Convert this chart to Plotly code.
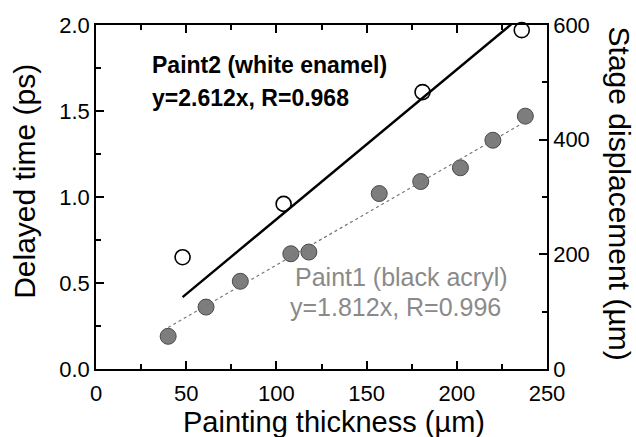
import plotly.graph_objects as go

# Paint1 (black acryl) measured points: thickness (um) vs delayed time (ps)
p1_x = [40, 61, 80, 108, 118, 157, 180, 202, 220, 238]
p1_y = [0.19, 0.36, 0.51, 0.67, 0.68, 1.02, 1.09, 1.17, 1.33, 1.47]
# Paint2 (white enamel) measured points
p2_x = [48, 104, 181, 236]
p2_y = [0.65, 0.96, 1.61, 1.97]
# linear fits (stage displacement um = slope * thickness)
p1_slope = 1.812
p2_slope = 2.612
p1_fit_x = [40, 238]
p2_fit_x = [48, 232]

FONT = "Liberation Sans, Arial, Helvetica, sans-serif"

fig = go.Figure()
fig.add_trace(go.Scatter(x=p1_fit_x, y=[p1_slope * v for v in p1_fit_x], yaxis="y2",
                         mode="lines", line=dict(color="#777777", width=1.2, dash="dot"),
                         showlegend=False, hoverinfo="skip"))
fig.add_trace(go.Scatter(x=p2_fit_x, y=[p2_slope * v for v in p2_fit_x], yaxis="y2",
                         mode="lines", line=dict(color="black", width=2.4),
                         showlegend=False, hoverinfo="skip"))
fig.add_trace(go.Scatter(x=p1_x, y=p1_y, mode="markers",
                         marker=dict(size=16, color="#7d7d7d", line=dict(color="#4a4a4a", width=1)),
                         showlegend=False))
fig.add_trace(go.Scatter(x=p2_x, y=p2_y, mode="markers",
                         marker=dict(size=15, color="white", line=dict(color="black", width=1.6)),
                         showlegend=False, cliponaxis=False))

axis_common = dict(showline=True, linecolor="black", linewidth=1.5, ticks="inside",
                   tickcolor="black", tickwidth=1.5, ticklen=8, showgrid=False, zeroline=False,
                   automargin=False,
                   tickfont=dict(family=FONT, size=22, color="black"))

fig.update_layout(
    width=636, height=437,
    margin=dict(l=96, r=89, t=25, b=68),
    paper_bgcolor="white", plot_bgcolor="white",
    xaxis=dict(range=[0, 250], dtick=50, tick0=0, mirror="ticks", ticklabelstandoff=4,
               minor=dict(dtick=25, ticks="inside", ticklen=5, tickcolor="black", tickwidth=1.5),
               **axis_common),
    yaxis=dict(range=[0, 2.0], dtick=0.5, tick0=0, tickformat=".1f",
               minor=dict(dtick=0.25, ticks="inside", ticklen=5, tickcolor="black", tickwidth=1.5),
               **axis_common),
    yaxis2=dict(range=[0, 600], dtick=200, tick0=0, overlaying="y", side="right",
                minor=dict(dtick=100, ticks="inside", ticklen=5, tickcolor="black", tickwidth=1.5),
                **axis_common),
)

# axis titles
fig.add_annotation(xref="paper", yref="paper", x=0.528, y=0, yshift=-53,
                   text="Painting thickness (µm)", showarrow=False,
                   xanchor="center", yanchor="middle", font=dict(family=FONT, size=29, color="black"))
fig.add_annotation(xref="paper", yref="paper", x=0, y=0.544, xshift=-71, textangle=-90,
                   text="Delayed time (ps)", showarrow=False,
                   xanchor="center", yanchor="middle", font=dict(family=FONT, size=30, color="black"))
fig.add_annotation(xref="paper", yref="paper", x=1, y=0.51, xshift=72, textangle=90,
                   text="Stage displacement (µm)", showarrow=False,
                   xanchor="center", yanchor="middle", font=dict(family=FONT, size=30, color="black"))

# fit labels
fig.add_annotation(x=30, y=1.767, text="<b>Paint2 (white enamel)</b>", showarrow=False,
                   xanchor="left", yanchor="middle", font=dict(family=FONT, size=23, color="black"))
fig.add_annotation(x=30, y=1.576, text="<b>y=2.612x, R=0.968</b>", showarrow=False,
                   xanchor="left", yanchor="middle", font=dict(family=FONT, size=23, color="black"))
fig.add_annotation(x=109, y=0.535, text="Paint1 (black acryl)", showarrow=False,
                   xanchor="left", yanchor="middle", font=dict(family=FONT, size=25, color="#8a8a8a"))
fig.add_annotation(x=106.5, y=0.36, text="y=1.812x, R=0.996", showarrow=False,
                   xanchor="left", yanchor="middle", font=dict(family=FONT, size=25, color="#8a8a8a"))

fig.write_html("out.html")
